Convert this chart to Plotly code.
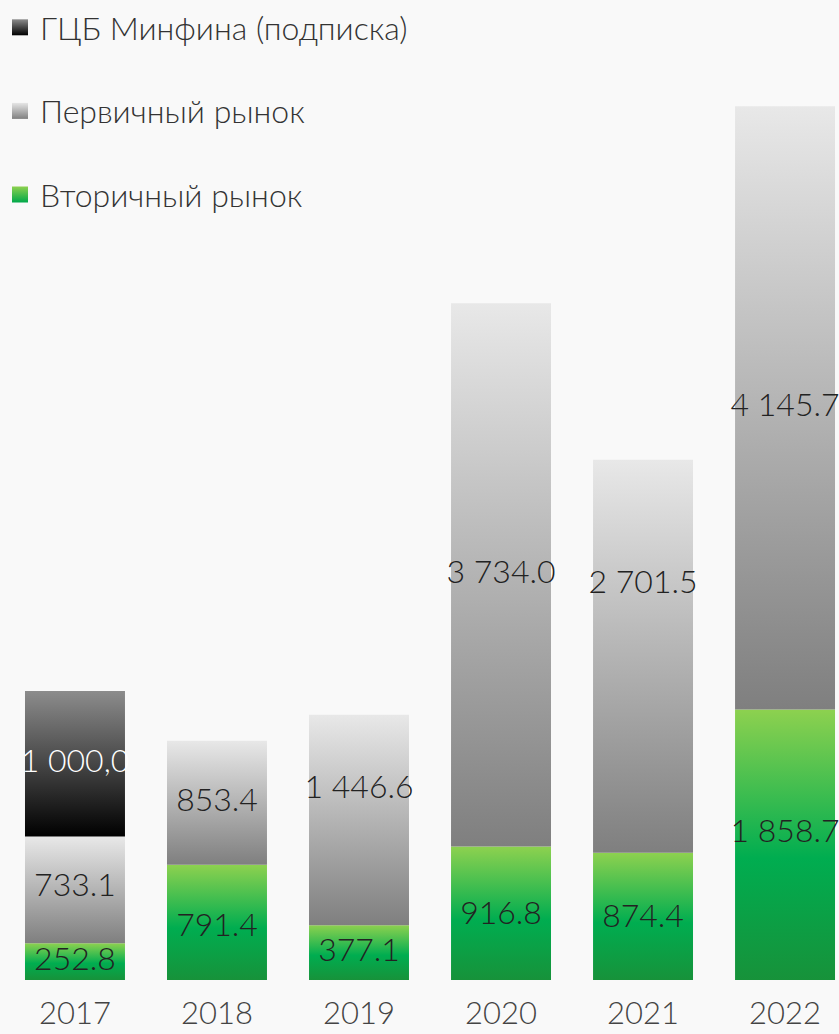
import plotly.graph_objects as go

years = ["2017", "2018", "2019", "2020", "2021", "2022"]
secondary = [252.8, 791.4, 377.1, 916.8, 874.4, 1858.7]
primary = [733.1, 853.4, 1446.6, 3734.0, 2701.5, 4145.7]
minfin = [1000.0, None, None, None, None, None]

series_names = ["Вторичный рынок", "Первичный рынок", "ГЦБ Минфина (подписка)"]
series_values = [secondary, primary, minfin]

# styles
BG = "#f9f9f9"
FONT = "Lato"
scales = [
    [[0, "#17923a"], [0.45, "#00ad50"], [1, "#8dd14f"]],
    [[0, "#7f7f7f"], [1, "#e8e8e8"]],
    [[0, "#000000"], [1, "#8c8c8c"]],
]
legend_colors = [("#00a84a", "#8dd14f"), ("#808080", "#e6e6e6"), ("#000000", "#8c8c8c")]
label_colors = ["#222222", "#222222", "#ffffff"]
decimal_comma = [False, False, True]
# relative vertical position of the value label inside each segment (style)
label_pos = [
    [0.5, 0.45, 0.5, 0.48, 0.48, 0.54],
    [0.52, 0.5, 0.64, 0.5, 0.68, 0.5],
    [0.5, 0.5, 0.5, 0.5, 0.5, 0.5],
]
BAR_W = 0.704


def fmt(v, comma):
    s = f"{v:,.1f}".replace(",", " ")
    if comma:
        s = s.replace(".", ",")
    return s


fig = go.Figure()

xs_lab, ys_lab, txt_lab, col_lab = [], [], [], []
base = [0.0] * len(years)
for si, vals in enumerate(series_values):
    for i, v in enumerate(vals):
        if v is None:
            continue
        b = base[i]
        t = b + v
        x0, x1 = i - BAR_W / 2, i + BAR_W / 2
        fig.add_trace(go.Scatter(
            x=[x0, x1, x1, x0, x0], y=[b, b, t, t, b],
            mode="lines", fill="toself", line=dict(width=0),
            fillgradient=dict(type="vertical", colorscale=scales[si]),
            showlegend=False, hoverinfo="skip",
        ))
        xs_lab.append(i)
        ys_lab.append(b + v * label_pos[si][i])
        txt_lab.append(fmt(v, decimal_comma[si]))
        col_lab.append(label_colors[si])
        base[i] = t

fig.add_trace(go.Scatter(
    x=xs_lab, y=ys_lab, text=txt_lab, mode="text",
    textposition="middle center",
    textfont=dict(family=FONT, size=32, color=col_lab, weight=300),
    showlegend=False, hoverinfo="skip",
))

# legend entries (top to bottom: ГЦБ, Первичный, Вторичный)
for si in [2, 1, 0]:
    c_bot, c_top = legend_colors[si]
    fig.add_trace(go.Scatter(
        x=[None], y=[None], mode="markers", name=series_names[si],
        legendgroup=series_names[si],
        marker=dict(symbol="square", size=16, color=c_top,
                    gradient=dict(type="vertical", color=c_bot),
                    line=dict(width=0)),
    ))

fig.update_layout(
    width=839, height=1034,
    paper_bgcolor=BG, plot_bgcolor=BG,
    margin=dict(l=0, r=0, t=0, b=54, autoexpand=False),
    font=dict(family=FONT, weight=300),
    showlegend=True,
    legend=dict(
        xref="container", yref="container",
        x=0.0, y=1.0, xanchor="left", yanchor="top",
        bgcolor="rgba(0,0,0,0)", traceorder="grouped",
        tracegroupgap=39, itemsizing="trace",
        font=dict(family=FONT, size=32, color="#333333", weight=300),
    ),
    xaxis=dict(
        range=[-0.528, 5.38], tickmode="array",
        tickvals=list(range(len(years))), ticktext=years,
        showgrid=False, zeroline=False, showline=False, ticks="",
        ticklabelstandoff=12, automargin=False,
        tickfont=dict(family=FONT, size=31, color="#444444", weight=300),
        fixedrange=True,
    ),
    yaxis=dict(range=[0, 6735], visible=False, fixedrange=True, automargin=False),
)

fig.write_html(
    "out.html",
    config={"displayModeBar": False},
    post_script=(
        "document.body.style.margin='0';"
        "document.body.style.overflow='hidden';"
        "document.body.style.background='" + BG + "';"
    ),
)
